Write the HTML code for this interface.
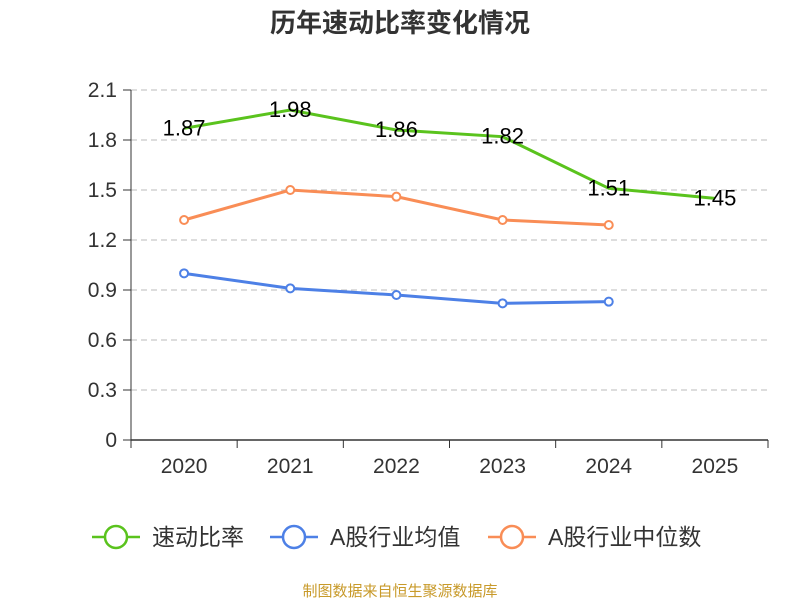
<!DOCTYPE html>
<html><head><meta charset="utf-8"><style>
body{margin:0;background:#fff;}
text{font-family:"Liberation Sans","Noto Sans CJK SC",sans-serif;}
</style></head><body>
<svg id="c" width="800" height="600" xmlns="http://www.w3.org/2000/svg">
<text x="400" y="32" text-anchor="middle" font-size="26" font-weight="bold" fill="#333">历年速动比率变化情况</text>
<g id="grid"></g><g id="axes"></g><g id="series"></g><g id="legend"></g>
<text x="400" y="596" text-anchor="middle" font-size="15" fill="#c89a2a">制图数据来自恒生聚源数据库</text>
</svg>
<script>
const categories=["2020","2021","2022","2023","2024","2025"];
const yTicks=[0,0.3,0.6,0.9,1.2,1.5,1.8,2.1];
const yTickLabels=["0","0.3","0.6","0.9","1.2","1.5","1.8","2.1"];
const quickRatio=[1.87,1.98,1.86,1.82,1.51,1.45];
const industryMean=[1.00,0.91,0.87,0.82,0.83];
const industryMedian=[1.32,1.50,1.46,1.32,1.29];
const NS="http://www.w3.org/2000/svg";
const L=131,R=768,T=90,B=440,yMax=2.1;
const bw=(R-L)/categories.length;
const x=i=>L+bw*(i+0.5);
const y=v=>B-(v/yMax)*(B-T);
function mk(tag,attrs,parent,txt){const e=document.createElementNS(NS,tag);for(const k in attrs)e.setAttribute(k,attrs[k]);if(txt!==undefined)e.textContent=txt;document.getElementById(parent).appendChild(e);return e;}
yTicks.forEach((t,i)=>{
 if(t>0){const g=mk('line',{x1:L,x2:R,y1:y(t),y2:y(t),stroke:'#bbb','stroke-dasharray':'6,4'},'grid');
 
 }
 const tk=mk('line',{x1:L-8,x2:L,y1:y(t),y2:y(t),stroke:'#333'},'axes');
 
 
 const lb=mk('text',{x:L-14,y:y(t)+7,'text-anchor':'end','font-size':21,fill:'#333'},'axes',yTickLabels[i]);
 
 
});
const ya=mk('line',{x1:L,x2:L,y1:T,y2:B,stroke:'#333'},'axes');


const xa=mk('line',{x1:L,x2:R,y1:B,y2:B,stroke:'#333','stroke-width':1.5},'axes');


for(let i=0;i<=categories.length;i++){const tk=mk('line',{x1:L+bw*i,x2:L+bw*i,y1:B,y2:B+8,stroke:'#333'},'axes');
 
 }
categories.forEach((c,i)=>{const t=mk('text',{x:x(i),y:B+33,'text-anchor':'middle','font-size':21,fill:'#333'},'axes',c);
 
 });
function series(vals,color,name,markers,labels){
 const p=mk('polyline',{points:vals.map((v,i)=>x(i)+','+y(v)).join(' '),fill:'none',stroke:color,'stroke-width':3},'series');
 
 
 vals.forEach((v,i)=>{
  if(markers){const c=mk('circle',{cx:x(i),cy:y(v),r:4,fill:'#fff',stroke:color,'stroke-width':2},'series');
   
   }
  if(labels){const t=mk('text',{x:x(i),y:y(v)+7,'text-anchor':'middle','font-size':22,fill:'#000'},'series',v.toFixed(2));
   
   }
 });
}
series(industryMedian,'#f98d56','industry-median',true,false);
series(industryMean,'#4d80e6','industry-mean',true,false);
series(quickRatio,'#5ac31d','quick-ratio',false,true);
const leg=[["速动比率","#5ac31d",92],["A股行业均值","#4d80e6",270],["A股行业中位数","#f98d56",488]];
leg.forEach(l=>{
 const g=mk('line',{x1:l[2],x2:l[2]+48,y1:537,y2:537,stroke:l[1],'stroke-width':2.5},'legend');
 
 
 const c=mk('circle',{cx:l[2]+24,cy:537,r:11,fill:'#fff',stroke:l[1],'stroke-width':2.5},'legend');
 
 
 const t=mk('text',{x:l[2]+60,y:545,'font-size':23,fill:'#333'},'legend',l[0]);
 
 
});
</script>
</body></html>
